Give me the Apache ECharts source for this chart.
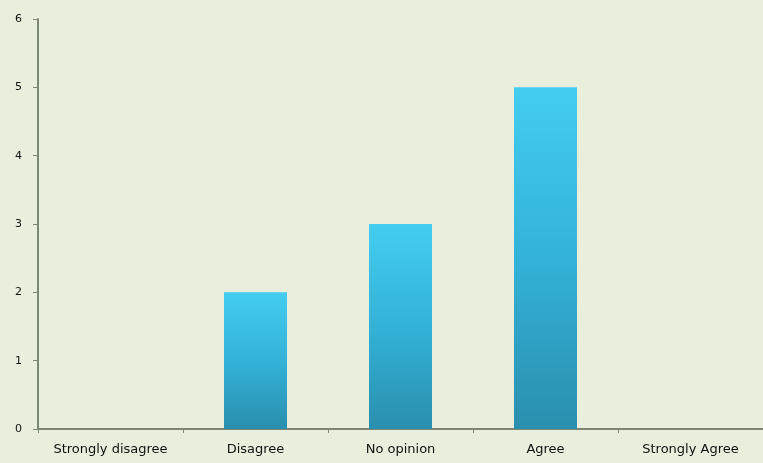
<!DOCTYPE html>
<html>
<head>
<meta charset="utf-8">
<script src="https://cdn.jsdelivr.net/npm/echarts@6/dist/echarts.min.js"></script>
<style>
html,body{margin:0;padding:0;background:#e9efdc;}
#c{width:763px;height:463px;}
</style>
</head>
<body>
<div id="c"></div>
<script>
const categories = ["Strongly disagree", "Disagree", "No opinion", "Agree", "Strongly Agree"];
const values = [0, 2, 3, 5, 0];
const yTicks = [0, 1, 2, 3, 4, 5, 6];

const chart = echarts.init(document.getElementById('c'));
chart.setOption({
  backgroundColor: '#e9efdc',
  animation: false,
  grid: { left: 38, right: -3, top: 19, bottom: 34 },
  xAxis: {
    type: 'category',
    data: categories,
    axisLine: { lineStyle: { color: '#7d8873', width: 2 } },
    axisTick: { show: true, interval: 0, length: 4, lineStyle: { color: '#7d8873' } },
    axisLabel: { interval: 0, hideOverlap: false, color: '#111', fontFamily: 'DejaVu Sans', fontSize: 13, margin: 14 }
  },
  yAxis: {
    type: 'value',
    min: yTicks[0],
    max: yTicks[yTicks.length - 1],
    interval: 1,
    axisLine: { show: true, lineStyle: { color: '#7d8873', width: 2 } },
    axisTick: { show: true, length: 5, lineStyle: { color: '#7d8873' } },
    splitLine: { show: false },
    axisLabel: { color: '#111', fontFamily: 'DejaVu Sans', fontSize: 11, margin: 16 }
  },
  series: [{
    type: 'bar',
    data: values,
    barWidth: 63,
    itemStyle: {
      color: new echarts.graphic.LinearGradient(0, 0, 0, 1, [
        { offset: 0, color: '#44cdf0' },
        { offset: 0.5, color: '#33b2d8' },
        { offset: 1, color: '#2a8fae' }
      ])
    }
  }]
});
</script>
</body>
</html>
